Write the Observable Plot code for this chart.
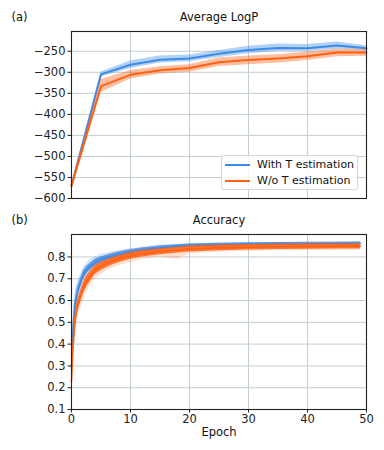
<!DOCTYPE html>
<html>
<head>
<meta charset="utf-8">
<script src="https://cdn.jsdelivr.net/npm/d3@7"></script>
<script src="https://cdn.jsdelivr.net/npm/@observablehq/plot@0.6"></script>
<style>
  html, body { margin: 0; padding: 0; background: #fff; }
  #wrap { position: relative; width: 384px; height: 450px; font-family: "DejaVu Sans", sans-serif; }
  #top, #bottom { position: absolute; left: 0; }
  #top { top: 0; }
  #bottom { top: 205px; }
  #legend { position: absolute; left: 221px; top: 155px; width: 135px; height: 33px;
    background: rgba(255,255,255,0.85); border: 1px solid #d8d8d8; border-radius: 3px;
    font-size: 11px; color: #111; box-sizing: content-box; }
  .item { position: absolute; left: 0; height: 16px; width: 135px; }
  .item span.sw { position: absolute; left: 3px; top: 7px; width: 25px; height: 2px; }
  .item span.lb { position: absolute; left: 35px; top: 0; line-height: 16px; white-space: nowrap; }
</style>
</head>
<body>
<div id="wrap">
  <div id="top"></div>
  <div id="bottom"></div>
  <div id="legend"></div>
</div>
<script>
// ---------- Panel (a): Average LogP ----------
const epochsA = [0, 5, 10, 15, 20, 25, 30, 35, 40, 45, 50];
const logpWithT    = [-570, -305, -282, -270, -267, -256, -247, -242, -243, -236, -243];
const logpWithTLo  = [-573, -311, -291, -278, -275, -265, -256, -250, -250, -245, -248];
const logpWithTHi  = [-567, -299, -273, -261, -259, -248, -238, -233, -234, -228, -237];
const logpWoT      = [-570, -333, -306, -295, -290, -276, -271, -267, -262, -253, -253];
const logpWoTLo    = [-574, -348, -316, -304, -300, -286, -282, -278, -272, -263, -262];
const logpWoTHi    = [-566, -317, -296, -287, -282, -266, -261, -258, -252, -245, -246];

// ---------- Panel (b): Accuracy ----------
const epochsB = [0, 0.25, 0.5, 0.75, 1, 1.5, 2, 2.5, 3, 4, 5, 6, 7, 8, 10, 12, 15, 18, 20, 25, 30, 35, 40, 45, 49];
const accWithT       = [0.29, 0.45, 0.55, 0.60, 0.635, 0.68, 0.715, 0.738, 0.752, 0.775, 0.788, 0.796, 0.805, 0.812, 0.823, 0.832, 0.842, 0.849, 0.852, 0.856, 0.858, 0.860, 0.861, 0.862, 0.863];
const accWithTLo     = [0.22, 0.38, 0.48, 0.55, 0.59, 0.64, 0.68, 0.71, 0.725, 0.75, 0.765, 0.775, 0.785, 0.795, 0.808, 0.818, 0.830, 0.838, 0.842, 0.846, 0.848, 0.850, 0.851, 0.852, 0.853];
const accWithTHi     = [0.36, 0.52, 0.62, 0.66, 0.69, 0.72, 0.75, 0.77, 0.785, 0.80, 0.812, 0.818, 0.825, 0.830, 0.838, 0.845, 0.855, 0.858, 0.862, 0.864, 0.866, 0.867, 0.868, 0.869, 0.870];
const accWithTCoreLo = [0.25, 0.41, 0.515, 0.575, 0.61, 0.66, 0.695, 0.72, 0.735, 0.76, 0.775, 0.784, 0.793, 0.80, 0.812, 0.822, 0.833, 0.841, 0.845, 0.849, 0.851, 0.853, 0.854, 0.855, 0.856];
const accWithTCoreHi = [0.33, 0.49, 0.585, 0.625, 0.66, 0.70, 0.735, 0.755, 0.768, 0.79, 0.80, 0.808, 0.816, 0.823, 0.833, 0.841, 0.850, 0.856, 0.859, 0.863, 0.865, 0.866, 0.867, 0.868, 0.869];
const accWoT         = [0.23, 0.38, 0.47, 0.535, 0.57, 0.615, 0.655, 0.685, 0.705, 0.74, 0.758, 0.77, 0.782, 0.79, 0.806, 0.815, 0.825, 0.832, 0.837, 0.842, 0.845, 0.847, 0.848, 0.849, 0.850];
const accWoTLo       = [0.18, 0.30, 0.40, 0.46, 0.51, 0.56, 0.60, 0.64, 0.66, 0.70, 0.72, 0.735, 0.75, 0.76, 0.775, 0.79, 0.80, 0.79, 0.815, 0.822, 0.826, 0.828, 0.830, 0.830, 0.832];
const accWoTHi       = [0.30, 0.45, 0.55, 0.60, 0.64, 0.68, 0.72, 0.745, 0.76, 0.785, 0.80, 0.81, 0.818, 0.825, 0.835, 0.842, 0.850, 0.855, 0.858, 0.862, 0.864, 0.866, 0.866, 0.866, 0.866];
const accWoTCoreLo   = [0.20, 0.34, 0.43, 0.50, 0.54, 0.59, 0.63, 0.66, 0.68, 0.72, 0.738, 0.752, 0.764, 0.773, 0.79, 0.80, 0.81, 0.818, 0.823, 0.828, 0.832, 0.834, 0.835, 0.836, 0.837];
const accWoTCoreHi   = [0.26, 0.42, 0.51, 0.57, 0.60, 0.64, 0.68, 0.71, 0.728, 0.76, 0.776, 0.787, 0.798, 0.806, 0.82, 0.83, 0.838, 0.845, 0.85, 0.855, 0.857, 0.859, 0.86, 0.861, 0.862];

const seriesNames = ["With T estimation", "W/o T estimation"];
const seriesColors = ["#3d8be8", "#ff6012"];
const xTicks = [0, 10, 20, 30, 40, 50];
const yTicksA = [-600, -550, -500, -450, -400, -350, -300, -250];
const yTicksB = [0.1, 0.2, 0.3, 0.4, 0.5, 0.6, 0.7, 0.8];

function rows(xs, m, lo, hi, clo, chi) {
  return xs.map((x, i) => ({x, m: m[i], lo: lo[i], hi: hi[i], clo: clo ? clo[i] : null, chi: chi ? chi[i] : null}));
}
const aWith = rows(epochsA, logpWithT, logpWithTLo, logpWithTHi);
const aWo = rows(epochsA, logpWoT, logpWoTLo, logpWoTHi);
const bWith = rows(epochsB, accWithT, accWithTLo, accWithTHi, accWithTCoreLo, accWithTCoreHi);
const bWo = rows(epochsB, accWoT, accWoTLo, accWoTHi, accWoTCoreLo, accWoTCoreHi);

const gridStyle = {stroke: "#c3cece", strokeOpacity: 1, strokeWidth: 1};
const svgStyle = {fontFamily: "DejaVu Sans, sans-serif", fontSize: "11.5px", color: "#222", background: "transparent", overflow: "visible"};
const FS = 11.5;

const topPlot = Plot.plot({
  width: 384, height: 205,
  marginLeft: 71, marginRight: 18, marginTop: 31, marginBottom: 7,
  style: svgStyle,
  x: {domain: [0, 50], axis: null},
  y: {domain: [-600, -203], axis: null},
  marks: [
    Plot.gridX(xTicks, gridStyle),
    Plot.gridY(yTicksA, gridStyle),
    Plot.areaY(aWith, {x: "x", y1: "lo", y2: "hi", fill: seriesColors[0], fillOpacity: 0.4}),
    Plot.lineY(aWith, {x: "x", y: "m", stroke: seriesColors[0], strokeWidth: 2}),
    Plot.areaY(aWo, {x: "x", y1: "lo", y2: "hi", fill: seriesColors[1], fillOpacity: 0.4}),
    Plot.lineY(aWo, {x: "x", y: "m", stroke: seriesColors[1], strokeWidth: 2}),
    Plot.axisY(yTicksA, {tickSize: 3.5, tickPadding: 2.5, fontSize: FS, stroke: "#222", fill: "#222"}),
    Plot.frame({stroke: "#222", strokeWidth: 1.1}),
    Plot.text(["Average LogP"], {frameAnchor: "top", dy: -14.5, lineAnchor: "middle", fontSize: FS, fill: "#111"}),
    Plot.text(["(a)"], {frameAnchor: "top-left", dx: -60, dy: -14.5, lineAnchor: "middle", textAnchor: "start", fontSize: FS, fill: "#111"})
  ]
});
document.getElementById("top").appendChild(topPlot);

const bottomPlot = Plot.plot({
  width: 384, height: 245,
  marginLeft: 71, marginRight: 18, marginTop: 29, marginBottom: 41,
  style: svgStyle,
  x: {domain: [0, 50], axis: null},
  y: {domain: [0.1, 0.903], axis: null},
  marks: [
    Plot.gridX(xTicks, gridStyle),
    Plot.gridY(yTicksB, gridStyle),
    Plot.areaY(bWith, {x: "x", y1: "lo", y2: "hi", fill: seriesColors[0], fillOpacity: 0.22}),
    Plot.areaY(bWo, {x: "x", y1: "lo", y2: "hi", fill: seriesColors[1], fillOpacity: 0.2}),
    Plot.areaY(bWith, {x: "x", y1: "clo", y2: "chi", fill: seriesColors[0], fillOpacity: 0.8}),
    Plot.lineY(bWith, {x: "x", y: "m", stroke: seriesColors[0], strokeWidth: 1.5}),
    Plot.areaY(bWo, {x: "x", y1: "clo", y2: "chi", fill: seriesColors[1], fillOpacity: 0.85}),
    Plot.lineY(bWo, {x: "x", y: "m", stroke: seriesColors[1], strokeWidth: 1.5}),
    Plot.axisY(yTicksB, {tickSize: 3.5, tickPadding: 2.5, fontSize: FS, stroke: "#222", fill: "#222", tickFormat: d3.format(".1f")}),
    Plot.axisX(xTicks, {tickSize: 3.5, tickPadding: 1.5, fontSize: FS, stroke: "#222", fill: "#222", label: null}),
    Plot.frame({stroke: "#222", strokeWidth: 1.1}),
    Plot.text(["Accuracy"], {frameAnchor: "top", dy: -14.5, lineAnchor: "middle", fontSize: FS, fill: "#111"}),
    Plot.text(["(b)"], {frameAnchor: "top-left", dx: -60, dy: -14.5, lineAnchor: "middle", textAnchor: "start", fontSize: FS, fill: "#111"}),
    Plot.text(["Epoch"], {frameAnchor: "bottom", dy: 22.5, lineAnchor: "middle", fontSize: FS, fill: "#111"})
  ]
});
document.getElementById("bottom").appendChild(bottomPlot);

// Legend
const legend = document.getElementById("legend");
seriesNames.forEach((name, i) => {
  const item = document.createElement("div");
  item.className = "item";
  item.style.top = (1 + i * 16) + "px";
  const sw = document.createElement("span");
  sw.className = "sw";
  sw.style.background = seriesColors[i];
  const lb = document.createElement("span");
  lb.className = "lb";
  lb.textContent = name;
  item.appendChild(sw);
  item.appendChild(lb);
  legend.appendChild(item);
});
</script>
</body>
</html>
